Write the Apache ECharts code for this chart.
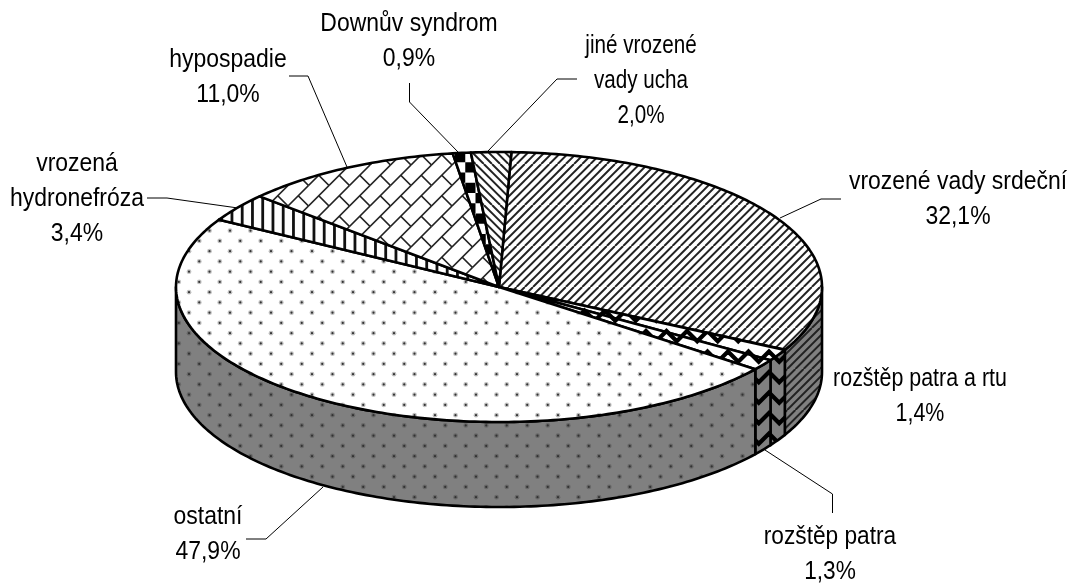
<!DOCTYPE html>
<html><head><meta charset="utf-8">
<style>html,body{margin:0;padding:0;background:#fff}#c{width:1074px;height:587px}</style>
<script src="https://cdn.jsdelivr.net/npm/echarts@6/dist/echarts.min.js"></script>
</head><body><div id="c"></div>
<script>
// ---- data ----
const categories = ['vrozené vady srdeční','rozštěp patra a rtu','rozštěp patra','ostatní','vrozená hydronefróza','hypospadie','Downův syndrom','jiné vrozené vady ucha'];
const shares = [32.1,1.4,1.3,47.9,3.4,11.0,0.9,2.0];
const labelLines = [['vrozené vady srdeční'],['rozštěp patra a rtu'],['rozštěp patra'],['ostatní'],['vrozená','hydronefróza'],['hypospadie'],['Downův syndrom'],['jiné vrozené','vady ucha']];
const patterns = ['up','zig','zig','dots','vert','brick','check','down'];
// ---- layout ----
const CX=499, CY=287, RX=323, RY=135, DEPTH=85, START=2.2;
const labelCenters = [[958,182],[920,379],[830,537],[208,517],[77,164],[228,60],[409,24],[641,46]];
const labelScale = [.9,.84,.89,.9,.9,.9,.9,.81];
const LH=35;
const leaders = [
 [[841,199],[821,199],[780,218]],
 null,
 [[832.5,513],[832.5,494],[765,450]],
 [[246,539],[266,539],[323,487]],
 [[147,198],[167,198],[238,208]],
 [[289,76],[308,76],[347,167]],
 [[409.5,83],[409.5,102],[458,152]],
 [[577,79],[557,79],[488,151]]
];
const T=41;
function tile(kind,bg){
  const c=document.createElement('canvas');c.width=T;c.height=T;const g=c.getContext('2d');
  g.fillStyle=bg;g.fillRect(0,0,T,T);g.strokeStyle='#000';g.fillStyle='#000';
  g.filter='blur(0.6px)';
  const seg=(a,b,d,e)=>{for(const ox of[-T,0,T])for(const oy of[-T,0,T]){g.beginPath();g.moveTo(a+ox,b+oy);g.lineTo(d+ox,e+oy);g.stroke();}};
  const p=T/2;
  if(kind==='up'||kind==='down'){
    const n=5,s=T/n;g.lineWidth=1.9;g.strokeStyle='#222';
    for(let i=-n;i<=2*n;i++){const x=i*s;
      g.beginPath();
      if(kind==='up'){g.moveTo(x,T);g.lineTo(x+T,0);}else{g.moveTo(x,0);g.lineTo(x+T,T);}
      g.stroke();}
  } else if(kind==='vert'){
    g.lineWidth=2.8;g.strokeStyle='#111';for(let i=-1;i<5;i++){const x=(i+.63)*T/4;g.beginPath();g.moveTo(x,-3);g.lineTo(x,T+3);g.stroke();}
  } else if(kind==='dots'){
    g.filter='none';
    for(let j=0;j<4;j++)for(let i=0;i<2;i++){const x=(i+(j%2?.5:0))*p+4.5,y=j*T/4+5.2;
      g.fillStyle='#333';g.globalAlpha=.3;g.beginPath();g.arc(x,y,2.4,0,7);g.fill();g.globalAlpha=1;g.beginPath();g.arc(x,y,1.1,0,7);g.fill();}
  } else if(kind==='brick'){
    g.lineWidth=1.7;g.strokeStyle='#222';
    for(let i=0;i<2;i++)for(let j=0;j<2;j++){const ox=i*p+1,oy=j*p+1;
      seg(ox,oy+p,ox+p,oy);
      seg(ox+p/2,oy+p/2,ox+p,oy+p);
    }
  } else if(kind==='check'){
    g.filter='none';
    const s=T/4;for(let j=-1;j<5;j++)for(let i=-1;i<5;i++)if(((i+j)%2+2)%2===0)g.fillRect(i*s+4,j*s+8.5,s,s);
  } else if(kind==='zig'){
    g.lineWidth=4.2;g.lineJoin='miter';g.strokeStyle='#000';const w=T/2;
    for(let r=-1;r<3;r++){const y=r*w+3;g.beginPath();for(let i=-1;i<=3;i++){const x=i*w+10.5;g[i===-1?'moveTo':'lineTo'](x,y);g.lineTo(x+w/2,y+w/2);}g.stroke();}
  }
  return c;
}
const topFill={},sideFill={};
for(const k of new Set(patterns)){topFill[k]={image:tile(k,'#fff'),repeat:'repeat'};sideFill[k]={image:tile(k,'#808080'),repeat:'repeat'};}

const shareTotal=shares.reduce((a,b)=>a+b,0);
const angles=[];let acc=START;
shares.forEach(v=>{angles.push(acc);acc+=v/shareTotal*360;});
const pt=(deg,dy)=>{const r=deg*Math.PI/180;return [CX+RX*Math.sin(r),CY-RY*Math.cos(r)+(dy||0)];};
function arc(a,b,dy){const out=[];const n=Math.max(2,Math.ceil(Math.abs(b-a)));for(let i=0;i<=n;i++)out.push(pt(a+(b-a)*i/n,dy));return out;}

const LINE={stroke:'#000',lineWidth:2.6,lineJoin:'round'};
function renderSide(params,api){
  const v=api.value(0),i=params.dataIndex;
  const a=angles[i],b=a+v/shareTotal*360;
  const lo=Math.max(a,90),hi=Math.min(b,270);
  if(hi<=lo)return null;
  return {type:'polygon',shape:{points:arc(lo,hi,0).concat(arc(hi,lo,DEPTH))},style:Object.assign({fill:sideFill[patterns[i]]},LINE)};
}
function renderTop(params,api){
  const v=api.value(0),i=params.dataIndex;
  const a=angles[i],b=a+v/shareTotal*360;
  return {type:'polygon',shape:{points:[[CX,CY]].concat(arc(a,b,0))},style:Object.assign({fill:topFill[patterns[i]]},LINE)};
}
function renderLabel(params,api){
  const i=params.dataIndex,v=api.value(0);
  const lines=labelLines[i].concat([v.toFixed(1).replace('.',',')+'%']);
  const kids=[];
  lines.forEach((t,k)=>{kids.push({type:'text',x:labelCenters[i][0],y:labelCenters[i][1]+k*LH,scaleX:labelScale[i],style:{text:t,x:0,y:0,align:'center',verticalAlign:'middle',fill:'#000',font:'25.5px "Liberation Sans", Arial, sans-serif'}});});
  if(leaders[i])kids.push({type:'polyline',shape:{points:leaders[i]},style:{stroke:'#000',lineWidth:1,fill:null}});
  return {type:'group',children:kids};
}
const data=shares.map((v,i)=>({name:categories[i],value:[v]}));
const chart=echarts.init(document.getElementById('c'),null,{renderer:'canvas'});
const base={type:'custom',coordinateSystem:'none',data,animation:false,silent:true,encode:{value:0}};
chart.setOption({
  animation:false,backgroundColor:'#fff',
  series:[
    Object.assign({},base,{name:'side',z:1,renderItem:renderSide}),
    Object.assign({},base,{name:'top',z:2,renderItem:renderTop}),
    Object.assign({},base,{name:'labels',z:3,renderItem:renderLabel})
  ]
});
</script></body></html>
